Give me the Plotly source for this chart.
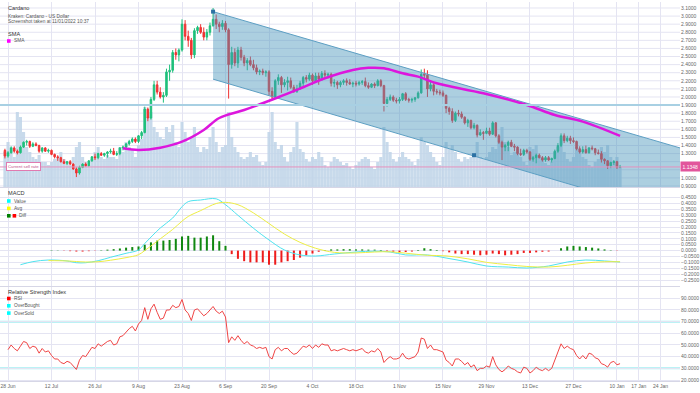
import pandas as pd
import plotly.graph_objects as go

W, H = 700, 393

def px_x(x):
    return x / W

def px_y(y):
    return (H - y) / H

# ---------------- data ----------------
dates = pd.date_range("2021-06-27", "2022-01-11", freq="D")

open_ = [1.34, 1.27, 1.31, 1.37,
         1.33, 1.31, 1.38, 1.44, 1.45, 1.39, 1.42,
         1.40, 1.33, 1.37, 1.33, 1.34, 1.29, 1.26,
         1.25, 1.20, 1.18, 1.20, 1.17, 1.11, 1.06,
         1.13, 1.17, 1.15, 1.21, 1.26, 1.25, 1.30,
         1.28, 1.30, 1.32, 1.33, 1.29, 1.30, 1.37,
         1.38, 1.42, 1.45, 1.48, 1.45, 1.52, 1.56,
         1.85, 1.74, 1.97, 2.15, 2.06, 2.00, 2.02,
         2.31, 2.33, 2.55, 2.52, 2.58, 2.90, 2.75,
         2.70, 2.52, 2.82, 2.86, 2.80, 2.74, 2.80,
         2.88, 2.96, 2.90, 2.87, 2.91, 2.83, 2.40,
         2.55, 2.42, 2.58, 2.49, 2.42, 2.45, 2.40,
         2.36, 2.31, 2.32, 2.30, 2.31, 2.07, 2.00,
         2.20, 2.24, 2.15, 2.18, 2.20, 2.12, 2.07,
         2.10, 2.17, 2.24, 2.22, 2.27, 2.20, 2.26,
         2.22, 2.29, 2.27, 2.28, 2.17, 2.18, 2.15,
         2.18, 2.20, 2.18, 2.16, 2.17, 2.16, 2.18,
         2.19, 2.14, 2.12, 2.16, 2.14, 2.20, 2.14,
         1.92, 1.97, 2.00, 1.96, 1.95, 1.97, 2.04,
         1.97, 1.96, 1.97, 1.99, 2.05, 2.28, 2.27,
         2.10, 2.15, 2.07, 2.06, 2.05, 2.02, 1.86,
         1.82, 1.71, 1.80, 1.79, 1.75, 1.68, 1.71,
         1.62, 1.65, 1.53, 1.56, 1.55, 1.58, 1.54,
         1.68, 1.52, 1.44, 1.38, 1.40, 1.44, 1.39,
         1.38, 1.30, 1.29, 1.34, 1.32, 1.23, 1.25,
         1.28, 1.25, 1.22, 1.25, 1.22, 1.24, 1.33,
         1.40, 1.52, 1.46, 1.49, 1.46, 1.45, 1.36,
         1.32, 1.35, 1.31, 1.37, 1.36, 1.31, 1.30,
         1.23, 1.21, 1.15, 1.19, 1.20, 1.13]

high = [1.36, 1.33, 1.39, 1.39,
        1.35, 1.40, 1.45, 1.47, 1.46, 1.44, 1.44,
        1.41, 1.38, 1.38, 1.36, 1.35, 1.30, 1.28,
        1.26, 1.23, 1.21, 1.22, 1.18, 1.13, 1.15,
        1.18, 1.19, 1.22, 1.27, 1.30, 1.31, 1.32,
        1.31, 1.33, 1.36, 1.37, 1.33, 1.38, 1.40,
        1.43, 1.47, 1.50, 1.50, 1.53, 1.58, 1.88,
        1.87, 2.00, 2.20, 2.20, 2.12, 2.06, 2.35,
        2.40, 2.58, 2.60, 2.60, 2.96, 2.95, 2.82,
        2.73, 2.85, 2.88, 2.90, 2.86, 2.84, 2.92,
        3.10, 3.02, 2.93, 2.95, 2.94, 2.85, 2.62,
        2.60, 2.62, 2.62, 2.52, 2.48, 2.50, 2.46,
        2.40, 2.34, 2.35, 2.33, 2.33, 2.12, 2.22,
        2.28, 2.26, 2.22, 2.25, 2.24, 2.15, 2.15,
        2.20, 2.26, 2.27, 2.30, 2.29, 2.30, 2.30,
        2.32, 2.33, 2.30, 2.30, 2.22, 2.20, 2.20,
        2.22, 2.23, 2.22, 2.19, 2.20, 2.20, 2.21,
        2.24, 2.18, 2.17, 2.18, 2.22, 2.22, 2.15,
        2.00, 2.03, 2.02, 1.99, 2.00, 2.05, 2.06,
        1.99, 1.99, 2.00, 2.07, 2.34, 2.35, 2.33,
        2.20, 2.17, 2.10, 2.09, 2.08, 2.03, 1.88,
        1.86, 1.82, 1.84, 1.82, 1.76, 1.73, 1.72,
        1.68, 1.66, 1.60, 1.58, 1.62, 1.62, 1.70,
        1.69, 1.54, 1.46, 1.42, 1.46, 1.47, 1.42,
        1.39, 1.36, 1.36, 1.36, 1.33, 1.27, 1.30,
        1.30, 1.27, 1.27, 1.27, 1.25, 1.35, 1.43,
        1.55, 1.55, 1.52, 1.52, 1.50, 1.46, 1.39,
        1.39, 1.40, 1.38, 1.40, 1.37, 1.35, 1.33,
        1.24, 1.22, 1.20, 1.22, 1.21, 1.16]

low = [1.24, 1.25, 1.30, 1.31,
       1.29, 1.30, 1.37, 1.40, 1.37, 1.38, 1.39,
       1.31, 1.31, 1.32, 1.31, 1.28, 1.24, 1.21,
       1.19, 1.17, 1.16, 1.16, 1.10, 1.01, 1.04,
       1.12, 1.14, 1.14, 1.20, 1.22, 1.23, 1.27,
       1.26, 1.25, 1.30, 1.28, 1.27, 1.28, 1.34,
       1.35, 1.40, 1.43, 1.43, 1.43, 1.48, 1.55,
       1.70, 1.72, 1.95, 2.03, 1.98, 1.93, 2.00,
       2.20, 2.30, 2.46, 2.44, 2.56, 2.70, 2.62,
       2.47, 2.48, 2.78, 2.78, 2.70, 2.70, 2.76,
       2.87, 2.84, 2.80, 2.83, 2.80, 1.98, 2.35,
       2.38, 2.36, 2.45, 2.38, 2.33, 2.38, 2.33,
       2.28, 2.27, 2.27, 2.25, 2.02, 1.96, 1.98,
       2.15, 2.05, 2.12, 2.08, 2.10, 2.05, 2.05,
       2.09, 2.13, 2.18, 2.20, 2.15, 2.18, 2.15,
       2.20, 2.24, 2.23, 2.13, 2.12, 2.10, 2.12,
       2.15, 2.14, 2.15, 2.12, 2.13, 2.14, 2.15,
       2.12, 2.10, 2.11, 2.11, 2.13, 2.12, 1.82,
       1.88, 1.95, 1.94, 1.92, 1.92, 1.95, 1.95,
       1.93, 1.93, 1.94, 1.98, 2.04, 2.22, 2.00,
       2.07, 2.02, 2.03, 2.02, 2.00, 1.80, 1.78,
       1.68, 1.69, 1.76, 1.73, 1.66, 1.63, 1.60,
       1.60, 1.50, 1.52, 1.47, 1.54, 1.52, 1.53,
       1.50, 1.42, 1.22, 1.33, 1.33, 1.38, 1.33,
       1.28, 1.27, 1.27, 1.30, 1.21, 1.20, 1.18,
       1.24, 1.20, 1.20, 1.21, 1.19, 1.23, 1.31,
       1.38, 1.43, 1.44, 1.42, 1.43, 1.34, 1.30,
       1.30, 1.30, 1.30, 1.34, 1.28, 1.29, 1.19,
       1.17, 1.11, 1.12, 1.16, 1.11, 1.12]

close = [1.27, 1.31, 1.37, 1.33,
         1.31, 1.38, 1.44, 1.45, 1.39, 1.42, 1.40,
         1.33, 1.37, 1.33, 1.34, 1.29, 1.26, 1.25,
         1.20, 1.18, 1.20, 1.17, 1.11, 1.06, 1.13,
         1.17, 1.15, 1.21, 1.26, 1.25, 1.30, 1.28,
         1.30, 1.32, 1.33, 1.29, 1.30, 1.37, 1.38,
         1.42, 1.45, 1.48, 1.45, 1.52, 1.56, 1.85,
         1.74, 1.97, 2.15, 2.06, 2.00, 2.02, 2.31,
         2.33, 2.55, 2.52, 2.58, 2.90, 2.75, 2.70,
         2.52, 2.82, 2.86, 2.80, 2.74, 2.80, 2.88,
         2.96, 2.90, 2.87, 2.91, 2.83, 2.40, 2.55,
         2.42, 2.58, 2.49, 2.42, 2.45, 2.40, 2.36,
         2.31, 2.32, 2.30, 2.31, 2.07, 2.00, 2.20,
         2.24, 2.15, 2.18, 2.20, 2.12, 2.07, 2.10,
         2.17, 2.24, 2.22, 2.27, 2.20, 2.26, 2.22,
         2.29, 2.27, 2.28, 2.17, 2.18, 2.15, 2.18,
         2.20, 2.18, 2.16, 2.17, 2.16, 2.18, 2.19,
         2.14, 2.12, 2.16, 2.14, 2.20, 2.14, 1.92,
         1.97, 2.00, 1.96, 1.95, 1.97, 2.04, 1.97,
         1.96, 1.97, 1.99, 2.05, 2.28, 2.27, 2.10,
         2.15, 2.07, 2.06, 2.05, 2.02, 1.86, 1.82,
         1.71, 1.80, 1.79, 1.75, 1.68, 1.71, 1.62,
         1.65, 1.53, 1.56, 1.55, 1.58, 1.54, 1.68,
         1.52, 1.44, 1.38, 1.40, 1.44, 1.39, 1.38,
         1.30, 1.29, 1.34, 1.32, 1.23, 1.25, 1.28,
         1.25, 1.22, 1.25, 1.22, 1.24, 1.33, 1.40,
         1.52, 1.46, 1.49, 1.46, 1.45, 1.36, 1.32,
         1.35, 1.31, 1.37, 1.36, 1.31, 1.30, 1.23,
         1.21, 1.15, 1.19, 1.20, 1.13, 1.135]

volume = [35, 45, 40, 30,
          75, 70, 55, 40, 35, 30, 28,
          32, 25, 25, 22, 25, 28, 30,
          35, 28, 25, 22, 30, 40, 45,
          30, 25, 22, 28, 35, 40, 30,
          28, 32, 30, 30, 28, 40, 35,
          45, 40, 38, 30, 42, 48, 80,
          70, 75, 60, 55, 50, 48, 60,
          55, 62, 45, 40, 65, 55, 45,
          50, 60, 40, 35, 40, 38, 50,
          60, 45, 35, 40, 42, 75, 50,
          40, 35, 30, 28, 30, 35, 30,
          32, 25, 22, 25, 55, 75, 45,
          38, 42, 30, 25, 35, 40, 65,
          38, 35, 28, 25, 30, 28, 35,
          30, 22, 20, 25, 30, 28, 25,
          22, 24, 20, 18, 22, 25, 28,
          30, 28, 20, 18, 25, 30, 60,
          45, 35, 28, 25, 30, 35, 30,
          28, 25, 22, 28, 50, 45, 42,
          35, 30, 25, 22, 30, 45, 38,
          42, 35, 28, 25, 30, 28, 30,
          32, 45, 30, 28, 30, 35, 40,
          38, 45, 60, 45, 40, 32, 35,
          38, 30, 25, 22, 40, 38, 42,
          30, 28, 24, 22, 25, 35, 40,
          50, 35, 28, 25, 30, 40, 35,
          30, 28, 22, 20, 25, 28, 40,
          35, 42, 30, 25, 30, 20]

rsi = [None, 46, 50, 47,
       45, 49, 53, 52, 47, 49, 48,
       43, 47, 44, 45, 41, 38, 38,
       35, 34, 36, 35, 32, 29, 37,
       41, 40, 44, 48, 47, 51, 49,
       51, 53, 54, 50, 51, 57, 58,
       61, 64, 66, 62, 68, 71, 82,
       72, 81, 85, 78, 72, 73, 80,
       80, 84, 82, 83, 89, 80, 77,
       71, 80, 81, 78, 75, 77, 80,
       83, 79, 77, 79, 74, 52, 57,
       54, 58, 54, 51, 53, 50, 49,
       47, 48, 47, 48, 40, 38, 46,
       48, 45, 47, 47, 44, 42, 43,
       46, 49, 48, 50, 47, 50, 48,
       51, 50, 50, 45, 46, 45, 46,
       47, 46, 45, 46, 45, 46, 47,
       44, 43, 45, 44, 47, 44, 35,
       38, 40, 38, 38, 39, 43, 39,
       38, 39, 40, 44, 56, 55, 47,
       50, 46, 46, 45, 44, 37, 35,
       32, 38, 38, 36, 33, 35, 31,
       33, 28, 30, 30, 32, 31, 40,
       33, 29, 27, 29, 32, 30, 29,
       27, 26, 31, 30, 26, 28, 31,
       29, 28, 30, 28, 30, 38, 44,
       51, 47, 49, 47, 46, 41, 38,
       41, 38, 43, 42, 39, 38, 34,
       33, 31, 35, 36, 33, 34]

sma_dates = ["2021-08-04", "2021-08-09", "2021-08-16", "2021-08-23", "2021-08-30",
             "2021-09-04", "2021-09-12", "2021-09-23", "2021-10-01", "2021-10-08",
             "2021-10-17", "2021-10-22", "2021-10-27", "2021-11-02", "2021-11-07",
             "2021-11-13", "2021-11-28", "2021-12-12", "2021-12-21", "2021-12-30",
             "2022-01-11"]
sma_values = [1.366, 1.345, 1.373, 1.447, 1.592,
              1.740, 1.839, 1.996, 2.120, 2.231,
              2.334, 2.360, 2.355, 2.293, 2.251,
              2.169, 2.046, 1.901, 1.777, 1.695,
              1.518]

macd_dates = ["2021-07-02", "2021-07-06", "2021-07-11", "2021-07-17", "2021-07-20",
              "2021-07-23", "2021-07-27", "2021-07-31", "2021-08-05", "2021-08-09",
              "2021-08-11", "2021-08-16", "2021-08-20", "2021-08-23", "2021-08-25",
              "2021-08-29", "2021-09-03", "2021-09-06", "2021-09-10", "2021-09-15",
              "2021-09-20", "2021-09-25", "2021-09-30", "2021-10-05", "2021-10-11",
              "2021-10-18", "2021-10-24", "2021-10-29", "2021-11-03", "2021-11-10",
              "2021-11-16", "2021-11-23", "2021-11-29", "2021-12-06", "2021-12-12",
              "2021-12-19", "2021-12-25", "2021-12-31", "2022-01-06", "2022-01-11"]
macd_value = [-0.120, -0.094, -0.080, -0.088, -0.103,
              -0.103, -0.086, -0.057, -0.023, 0.005,
              0.060, 0.192, 0.277, 0.373, 0.416,
              0.430, 0.440, 0.390, 0.300, 0.190,
              0.090, 0.005, -0.037, -0.046, -0.029,
              -0.012, -0.005, -0.012, -0.037, -0.037,
              -0.063, -0.097, -0.131, -0.140, -0.148,
              -0.131, -0.097, -0.080, -0.088, -0.097]
macd_avg = [None, None, -0.085, -0.088, -0.093,
            -0.097, -0.095, -0.082, -0.060, -0.035,
            0.000, 0.100, 0.180, 0.250, 0.290,
            0.340, 0.400, 0.410, 0.390, 0.320,
            0.230, 0.140, 0.070, 0.020, -0.015,
            -0.020, -0.012, -0.010, -0.022, -0.040,
            -0.045, -0.070, -0.100, -0.120, -0.135,
            -0.140, -0.125, -0.105, -0.095, -0.095]

diff_dates = pd.date_range("2021-07-12", "2022-01-10", freq="2D")
macd_diff = [0.003, 0.002, -0.002, -0.005, -0.008, -0.008, -0.005, -0.002, 0.003, 0.008,
             0.012, 0.018, 0.025, 0.030, 0.035, 0.050, 0.070, 0.085, 0.085, 0.090,
             0.100, 0.120, 0.125, 0.110, 0.110, 0.120, 0.130, 0.080, 0.040, -0.030,
             -0.070, -0.090, -0.100, -0.100, -0.100, -0.120, -0.120, -0.100, -0.090, -0.080,
             -0.060, -0.040, -0.025, -0.010, 0.005, 0.010, 0.010, 0.012, 0.012, 0.010,
             0.010, 0.008, 0.008, 0.005, -0.005, -0.010, -0.015, -0.012, -0.008, 0.005,
             0.020, 0.012, 0.005, -0.005, -0.015, -0.025, -0.030, -0.030, -0.035, -0.040,
             -0.035, -0.025, -0.030, -0.040, -0.035, -0.030, -0.020, -0.020, -0.015, -0.010,
             -0.008, 0.000, 0.020, 0.035, 0.040, 0.035, 0.030, 0.025, 0.018, 0.010,
             0.003, -0.002]

channel_dates = ["2021-09-02", "2022-01-30 07:00"]
channel_top = [3.055, 1.37]
channel_bottom = [2.22, 0.52]
anchor_dates = ["2021-09-02", "2021-11-25"]
anchor_values = [3.055, 1.28]

buy_line = 1.90
sell_rate = 1.1348
rsi_overbought = 70
rsi_oversold = 30

tick_dates = ["2021-06-28", "2021-07-12", "2021-07-26", "2021-08-09", "2021-08-23",
              "2021-09-06", "2021-09-20", "2021-10-04", "2021-10-18", "2021-11-01",
              "2021-11-15", "2021-11-29", "2021-12-13", "2021-12-27", "2022-01-10",
              "2022-01-17", "2022-01-24"]
tick_labels = ["28 Jun", "12 Jul", "26 Jul", "9 Aug", "23 Aug", "6 Sep", "20 Sep",
               "4 Oct", "18 Oct", "1 Nov", "15 Nov", "29 Nov", "13 Dec", "27 Dec",
               "10 Jan", "17 Jan", "24 Jan"]
# 1.1 and 1.2 sit under the current-sell-rate marker, as in the original
price_ticks = [0.9, 1.0, 1.3, 1.4, 1.5, 1.6, 1.7, 1.8, 1.9, 2.0, 2.1, 2.2, 2.3,
               2.4, 2.5, 2.6, 2.7, 2.8, 2.9, 3.0, 3.1]
price_grid = [round(0.9 + 0.1 * i, 1) for i in range(23)]
macd_ticks = [round(-0.25 + 0.05 * i, 2) for i in range(15)]
rsi_ticks = [20, 30, 40, 50, 60, 70, 80, 90]

# ---------------- figure ----------------
FONT = "Liberation Sans, Arial, sans-serif"
GRID = "#e4e4f2"
TICKF = dict(family=FONT, size=5, color="#666666")

fig = go.Figure()

fig.add_trace(go.Bar(x=dates, y=volume, xaxis="x", yaxis="y", width=86400000,
                     marker=dict(color="rgba(190,212,232,0.85)", line=dict(width=0)),
                     showlegend=False, hoverinfo="skip"))

fig.add_trace(go.Candlestick(x=dates, open=open_, high=high, low=low, close=close,
                             xaxis="x", yaxis="y2", whiskerwidth=0,
                             increasing=dict(line=dict(color="#1fc07c", width=1), fillcolor="#1fc07c"),
                             decreasing=dict(line=dict(color="#f03333", width=1), fillcolor="#f03333"),
                             showlegend=False))

fig.add_trace(go.Scatter(x=[channel_dates[0], channel_dates[1], channel_dates[1], channel_dates[0]],
                         y=[channel_top[0], channel_top[1], channel_bottom[1], channel_bottom[0]],
                         fill="toself", fillcolor="rgba(72,148,186,0.45)", mode="lines",
                         line=dict(width=0), xaxis="x", yaxis="y2", showlegend=False,
                         hoverinfo="skip"))
fig.add_trace(go.Scatter(x=channel_dates, y=channel_top, mode="lines",
                         line=dict(color="#5d9fc3", width=1), xaxis="x", yaxis="y2",
                         showlegend=False, hoverinfo="skip"))
fig.add_trace(go.Scatter(x=channel_dates, y=channel_bottom, mode="lines",
                         line=dict(color="#5d9fc3", width=1), xaxis="x", yaxis="y2",
                         showlegend=False, hoverinfo="skip"))

fig.add_trace(go.Scatter(x=sma_dates, y=sma_values, mode="lines",
                         line=dict(color="#dd16dd", width=2.5, shape="spline"),
                         xaxis="x", yaxis="y2", showlegend=False))

fig.add_trace(go.Scatter(x=anchor_dates, y=anchor_values, mode="markers",
                         marker=dict(symbol="square", size=4, color="#2d72a4"),
                         xaxis="x", yaxis="y2", showlegend=False))

# MACD
diff_colors = ["#118811" if v >= 0 else "#ee1c1c" for v in macd_diff]
fig.add_trace(go.Bar(x=diff_dates, y=macd_diff, xaxis="x2", yaxis="y3",
                     width=56000000, marker=dict(color=diff_colors, line=dict(width=0)),
                     showlegend=False))
fig.add_trace(go.Scatter(x=macd_dates, y=macd_value, mode="lines",
                         line=dict(color="#4fe3ef", width=1, shape="spline"),
                         xaxis="x2", yaxis="y3", showlegend=False))
fig.add_trace(go.Scatter(x=macd_dates, y=macd_avg, mode="lines",
                         line=dict(color="#eeee44", width=1, shape="spline"),
                         xaxis="x2", yaxis="y3", showlegend=False))

# RSI
fig.add_trace(go.Scatter(x=dates, y=rsi, mode="lines",
                         line=dict(color="#f04545", width=1),
                         xaxis="x3", yaxis="y4", showlegend=False))

x_range = ["2021-06-25 10:00", "2022-01-30 07:00"]
xdom = [0, px_x(680)]
main_dom = [px_y(187), px_y(2)]
macd_dom = [px_y(286), px_y(188)]
rsi_dom = [px_y(381), px_y(287)]

xcommon = dict(type="date", range=x_range, domain=xdom, tickvals=tick_dates,
               ticktext=tick_labels, showgrid=True, gridcolor=GRID, gridwidth=1,
               zeroline=False, ticks="", showline=True, linecolor="#d6d6e6",
               linewidth=1, tickfont=TICKF, fixedrange=True)
ycommon = dict(side="right", showgrid=True, gridcolor=GRID, gridwidth=1,
               zeroline=False, ticks="", tickfont=TICKF, showline=False,
               fixedrange=True, automargin=False)

fig.update_layout(
    width=W, height=H,
    margin=dict(l=0, r=0, t=0, b=0),
    paper_bgcolor="white", plot_bgcolor="white",
    font=dict(family=FONT),
    showlegend=False,
    barmode="overlay",
    hovermode=False,
    xaxis=dict(xcommon, anchor="y", showticklabels=False, rangeslider=dict(visible=False)),
    xaxis2=dict(xcommon, anchor="y3", matches="x", showticklabels=False),
    xaxis3=dict(xcommon, anchor="y4", matches="x", showticklabels=True),
    yaxis=dict(domain=main_dom, range=[0, 185], visible=False, anchor="x", fixedrange=True),
    yaxis2=dict(ycommon, overlaying="y", anchor="x", range=[0.887, 3.174],
                tickvals=price_ticks, tickformat=".4f", showgrid=False),
    yaxis3=dict(ycommon, domain=macd_dom, anchor="x2", range=[-0.301, 0.532],
                tickvals=macd_ticks, tickformat=".4f"),
    yaxis4=dict(ycommon, domain=rsi_dom, anchor="x3", range=[19.14, 99.7],
                tickvals=rsi_ticks, tickformat=".4f"),
)

shapes = []
# horizontal price gridlines (every 0.1, including those hidden under the marker)
for g in price_grid:
    shapes.append(dict(type="line", xref="x domain", yref="y2", x0=0, x1=1,
                       y0=g, y1=g, line=dict(color=GRID, width=1), layer="below"))
shapes.append(dict(type="line", xref="x domain", yref="y2", x0=0, x1=1,
                   y0=buy_line, y1=buy_line, line=dict(color="#a8d0e3", width=2), layer="above"))
shapes.append(dict(type="line", xref="x domain", yref="y2", x0=0, x1=1,
                   y0=sell_rate, y1=sell_rate, line=dict(color="#e690bd", width=1), layer="above"))
for lvl in (rsi_overbought, rsi_oversold):
    shapes.append(dict(type="line", xref="x3 domain", yref="y4", x0=0, x1=1,
                       y0=lvl, y1=lvl, line=dict(color="#a4eef2", width=2), layer="below"))

annotations = []

def text(x, y, s, size=4.8, color="#555555"):
    annotations.append(dict(x=px_x(x), y=px_y(y), xref="paper", yref="paper", text=s,
                            showarrow=False, xanchor="left", yanchor="middle",
                            font=dict(family=FONT, size=size, color=color)))

def square(x, y, color, s=3.6):
    shapes.append(dict(type="rect", xref="paper", yref="paper",
                       x0=px_x(x), x1=px_x(x + s), y0=px_y(y + s / 2), y1=px_y(y - s / 2),
                       fillcolor=color, line=dict(width=0), layer="above"))

# main panel legend
text(5.5, 8.3, "Cardano", size=5.6, color="#333333")
text(5.5, 16, "Kraken: Cardano - US Dollar")
text(5.5, 22, "Screenshot taken at 11/01/2022 10:37")
text(5.5, 33.5, "SMA", size=5.6, color="#333333")
square(7, 41, "#ff00ff")
text(11.8, 41, "SMA")

# MACD legend
text(5.5, 193.3, "MACD", size=5.6, color="#333333")
square(7, 201, "#00ffff")
text(11.8, 201, "Value")
square(7, 208.4, "#ffff00")
text(11.8, 208.4, "Avg")
square(7, 215.8, "#008000")
square(12.6, 215.8, "#ff0000")
text(17.3, 215.8, "Diff")

# RSI legend
text(5.5, 291.5, "Relative Strength Index", size=5.6, color="#333333")
square(7, 298.5, "#ff0000")
text(11.8, 298.5, "RSI")
square(7, 305.8, "#00ffff")
text(11.8, 305.8, "OverBought")
square(7, 313.1, "#00ffff")
text(11.8, 313.1, "OverSold")

# current sell rate labels
annotations.append(dict(x=px_x(6), y=sell_rate, xref="paper", yref="y2",
                        text="Current sell rate", showarrow=False, xanchor="left",
                        yanchor="middle", bgcolor="white", bordercolor="#e07ab0",
                        borderwidth=1, borderpad=1,
                        font=dict(family=FONT, size=4.3, color="#c04a88")))
annotations.append(dict(x=px_x(680), y=sell_rate, xref="paper", yref="y2",
                        text=f"{sell_rate:.4f}", showarrow=False, xanchor="left",
                        yanchor="middle", bgcolor="#e2559c", borderpad=1.5,
                        font=dict(family=FONT, size=5, color="white")))

fig.update_layout(shapes=shapes, annotations=annotations)

fig.write_html("out.html",
               config={"displayModeBar": False, "staticPlot": True},
               post_script="document.body.style.margin='0';document.body.style.padding='0';"
                           "document.documentElement.style.overflow='hidden';")
